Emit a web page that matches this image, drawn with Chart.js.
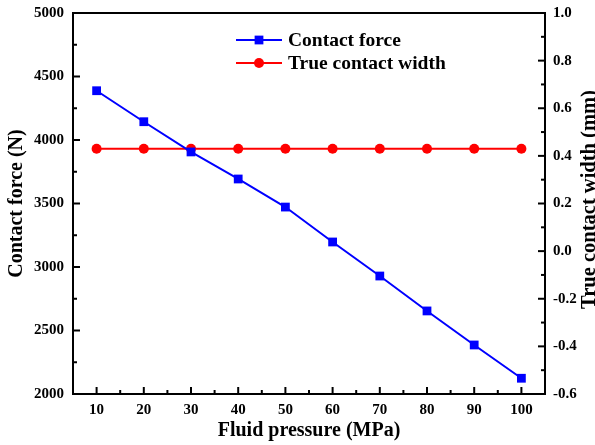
<!DOCTYPE html>
<html>
<head>
<meta charset="utf-8">
<script src="https://cdn.jsdelivr.net/npm/chart.js@4/dist/chart.umd.min.js"></script>
<style>
  html, body { margin: 0; padding: 0; background: #fff; }
  #wrap { width: 595px; height: 445px; position: relative; }
</style>
</head>
<body>
<div id="wrap"><canvas id="chart"></canvas></div>
<script>
/* data */
const pressure     = [10, 20, 30, 40, 50, 60, 70, 80, 90, 100];
const contactForce = [4388, 4144, 3906, 3693, 3472, 3197, 2929, 2654, 2386, 2124];
const contactWidth = [0.43, 0.43, 0.43, 0.43, 0.43, 0.43, 0.43, 0.43, 0.43, 0.43];

const xTicks     = [10, 20, 30, 40, 50, 60, 70, 80, 90, 100];
const forceTicks = [2000, 2500, 3000, 3500, 4000, 4500, 5000];
const widthTicks = [-0.6, -0.4, -0.2, 0.0, 0.2, 0.4, 0.6, 0.8, 1.0];

const SERIF = "'Liberation Serif', 'Times New Roman', serif";
Chart.defaults.font.family = SERIF;
Chart.defaults.color = '#000';

const tickFont  = { family: SERIF, size: 15, weight: 'bold' };
const titleFont = { family: SERIF, size: 20, weight: 'bold' };

const setTicks = list => scale => { scale.ticks = list.map(v => ({ value: v })); };
// fixed box size for an axis, without extra room for overhanging labels
const fixWidth = w => s => { s.width = w; s.paddingTop = 0; s.paddingBottom = 0; };

/* frame + inward major/minor ticks */
const framePlugin = {
  id: 'frame',
  afterDraw(chart) {
    const { ctx, chartArea: a, scales } = chart;
    ctx.save();
    ctx.strokeStyle = '#000';
    ctx.lineWidth = 2;
    ctx.strokeRect(a.left, a.top, a.right - a.left, a.bottom - a.top);

    const drawTicks = (scale, dir) => {
      const vals = scale.ticks.map(t => t.value);
      const minors = [];
      for (let i = 0; i < vals.length - 1; i++) minors.push((vals[i] + vals[i + 1]) / 2);
      const one = (v, len) => {
        const p = scale.getPixelForValue(v);
        ctx.beginPath();
        if (dir === 'up')    { ctx.moveTo(p, a.bottom); ctx.lineTo(p, a.bottom - len); }
        if (dir === 'right') { ctx.moveTo(a.left, p);   ctx.lineTo(a.left + len, p); }
        if (dir === 'left')  { ctx.moveTo(a.right, p);  ctx.lineTo(a.right - len, p); }
        ctx.stroke();
      };
      vals.forEach(v => one(v, 7));
      minors.forEach(v => one(v, 4));
    };
    drawTicks(scales.x, 'up');
    drawTicks(scales.yForce, 'right');
    drawTicks(scales.yWidth, 'left');
    ctx.restore();
  }
};

/* right axis title, read bottom to top */
const rightTitlePlugin = {
  id: 'rightTitle',
  afterDraw(chart) {
    const { ctx, chartArea: a } = chart;
    ctx.save();
    ctx.translate(590, (a.top + a.bottom) / 2 - 4);
    ctx.rotate(-Math.PI / 2);
    ctx.font = 'bold 20.5px ' + SERIF;
    ctx.fillStyle = '#000';
    ctx.textAlign = 'center';
    ctx.textBaseline = 'middle';
    ctx.fillText('True contact width (mm)', 0, 0);
    ctx.restore();
  }
};

/* legend with line + marker samples */
const legendPlugin = {
  id: 'lineLegend',
  afterDraw(chart) {
    const { ctx } = chart;
    const rows = [{ ds: chart.data.datasets[0], y: 40 }, { ds: chart.data.datasets[1], y: 63 }];
    ctx.save();
    rows.forEach(({ ds, y }) => {
      ctx.strokeStyle = ds.borderColor;
      ctx.lineWidth = ds.borderWidth;
      ctx.beginPath();
      ctx.moveTo(236, y);
      ctx.lineTo(282, y);
      ctx.stroke();
      ctx.fillStyle = ds.pointBackgroundColor;
      if (ds.pointStyle === 'rect') {
        const s = ds.pointRadius * Math.SQRT1_2;
        ctx.fillRect(259 - s, y - s, 2 * s, 2 * s);
      } else {
        ctx.beginPath();
        ctx.arc(259, y, ds.pointRadius, 0, Math.PI * 2);
        ctx.fill();
      }
      ctx.fillStyle = '#000';
      ctx.font = 'bold 19.5px ' + SERIF;
      ctx.textAlign = 'left';
      ctx.textBaseline = 'middle';
      ctx.fillText(ds.label, 288, y + 1);
    });
    ctx.restore();
  }
};

new Chart(document.getElementById('chart'), {
  type: 'line',
  data: {
    datasets: [
      {
        label: 'Contact force',
        data: pressure.map((p, i) => ({ x: p, y: contactForce[i] })),
        yAxisID: 'yForce',
        borderColor: '#0000ff',
        backgroundColor: '#0000ff',
        pointBackgroundColor: '#0000ff',
        pointBorderWidth: 0,
        pointStyle: 'rect',
        pointRadius: 6.2,
        borderWidth: 2,
        tension: 0,
        clip: false,
      },
      {
        label: 'True contact width',
        data: pressure.map((p, i) => ({ x: p, y: contactWidth[i] })),
        yAxisID: 'yWidth',
        borderColor: '#ff0000',
        backgroundColor: '#ff0000',
        pointBackgroundColor: '#ff0000',
        pointBorderWidth: 0,
        pointStyle: 'circle',
        pointRadius: 5,
        borderWidth: 2,
        tension: 0,
        clip: false,
      },
    ],
  },
  options: {
    responsive: true,
    maintainAspectRatio: false,
    animation: false,
    layout: { padding: { top: 13, left: 0, right: 0, bottom: 0 } },
    plugins: { legend: { display: false }, tooltip: { enabled: false } },
    scales: {
      x: {
        type: 'linear',
        min: 5, max: 105,
        afterBuildTicks: setTicks(xTicks),
        afterFit: s => { s.height = 51; s.paddingLeft = 0; s.paddingRight = 0; },
        grid: { display: false, drawTicks: false },
        border: { display: false },
        ticks: { font: tickFont, color: '#000', padding: 7, maxRotation: 0, callback: v => String(v) },
        title: { display: true, text: 'Fluid pressure (MPa)', font: titleFont, color: '#000', padding: { top: 0, bottom: 2 } },
      },
      yForce: {
        type: 'linear',
        position: 'left',
        min: 2000, max: 5000,
        afterBuildTicks: setTicks(forceTicks),
        afterFit: fixWidth(73),
        grid: { display: false, drawTicks: false },
        border: { display: false },
        ticks: { font: tickFont, color: '#000', padding: 9, callback: v => String(v) },
        title: { display: true, text: 'Contact force (N)', font: titleFont, color: '#000', padding: { top: 5, bottom: 0 } },
      },
      yWidth: {
        type: 'linear',
        position: 'right',
        min: -0.6, max: 1.0,
        afterBuildTicks: setTicks(widthTicks),
        afterFit: fixWidth(50),
        grid: { display: false, drawTicks: false },
        border: { display: false },
        ticks: { font: tickFont, color: '#000', padding: 8, callback: v => v.toFixed(1) },
      },
    },
  },
  plugins: [framePlugin, rightTitlePlugin, legendPlugin],
});
</script>
</body>
</html>
